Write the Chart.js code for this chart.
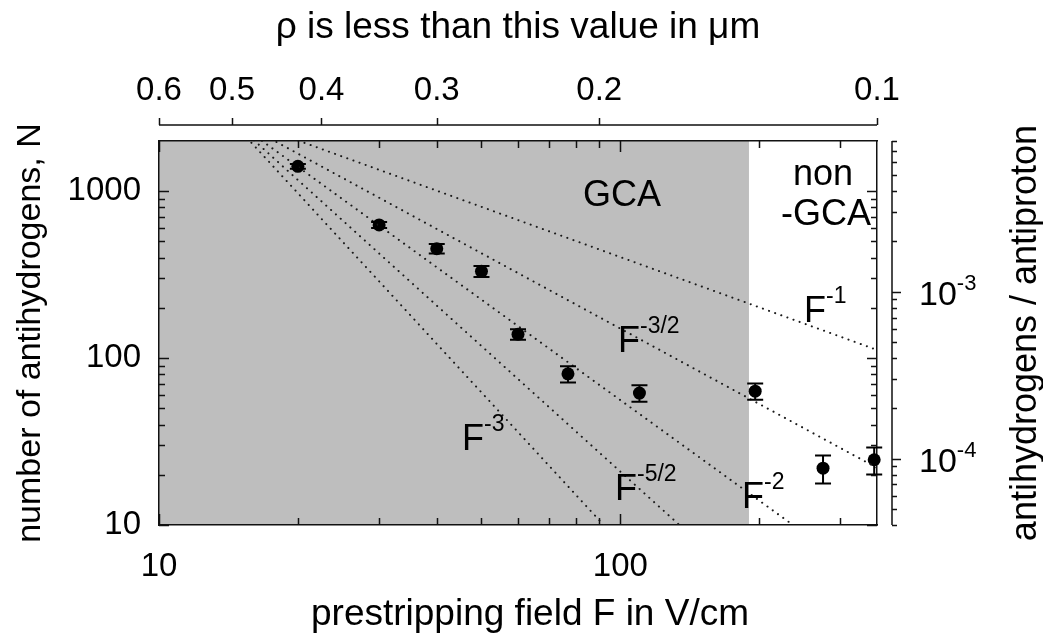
<!DOCTYPE html>
<html lang="en">
<head>
<meta charset="UTF-8">
<title>Antihydrogen yield vs prestripping field</title>
<style>
    body { margin: 0; background: #fff; }
    #wrap { width: 1043px; height: 644px; position: relative; }
</style>
</head>
<body>
<div id="wrap"><canvas id="chart"></canvas></div>

<script src="https://cdn.jsdelivr.net/npm/chart.js"></script>
<script>
// measured antihydrogen counts N against prestripping field F (V/cm)
const fieldValues = [20, 30, 40, 50, 60, 77, 110, 196, 275, 355];
const hbarCounts  = [1410, 628, 453, 331, 139, 80.5, 61.7, 63.4, 21.9, 24.6];
const countErrors = [45, 25, 30, 25, 10, 9, 7, 7, 4.2, 4.5];

// power-law guides N ~ F^-k, all drawn through one common point
const guideExponents = [1, 1.5, 2, 2.5, 3];
const guideLabels    = ['-1', '-3/2', '-2', '-5/2', '-3'];
const guideOrigin    = [13.9, 2900];
const guideEnd       = 360;

// axes
const fieldRange  = [10, 360];
const countRange  = [10, 2000];
const gcaLimit    = 190;      // GCA region lies below this field
const antiprotons = 2.5e5;    // N / antiprotons = antihydrogens per antiproton
const fieldTicks  = [10, 100];
const fieldMinor  = [20, 30, 40, 50, 60, 70, 80, 90, 200, 300];
const countTicks  = [10, 100, 1000];
const countMinor  = [20, 30, 40, 50, 60, 70, 80, 90, 200, 300, 400, 500, 600, 700, 800, 900];
const rhoTicks    = [0.6, 0.5, 0.4, 0.3, 0.2, 0.1];
const ratioMajor  = [1e-4, 1e-3];
const ratioMinor  = [4e-5, 5e-5, 6e-5, 7e-5, 8e-5, 9e-5,
                     2e-4, 3e-4, 4e-4, 5e-4, 6e-4, 7e-4, 8e-4, 9e-4,
                     2e-3, 3e-3, 4e-3, 5e-3, 6e-3, 7e-3, 8e-3];

const FONT = "'Liberation Sans', Arial, Helvetica, sans-serif";
const INK = '#111';

function drawText(ctx, str, x, y, size, align) {
    ctx.font = size + 'px ' + FONT;
    ctx.textAlign = align || 'left';
    ctx.textBaseline = 'alphabetic';
    ctx.fillText(str, x, y);
}

// "F" with a raised exponent, x/y = left edge and baseline of the F
function drawPower(ctx, base, exp, x, y) {
    drawText(ctx, base, x, y, 36);
    const w = ctx.measureText(base).width;
    drawText(ctx, exp, x + w, y - 19, 23);
}

const decorations = {
    id: 'decorations',
    beforeDraw(chart) {
        // grey GCA band
        const { ctx, chartArea: a, scales } = chart;
        const xr = scales.x.getPixelForValue(gcaLimit);
        ctx.save();
        ctx.fillStyle = '#bebebe';
        ctx.fillRect(a.left, a.top, xr - a.left, a.bottom - a.top);
        ctx.restore();
    },
    afterDatasetsDraw(chart) {
        // error bars
        const { ctx, scales: { x, y } } = chart;
        ctx.save();
        ctx.strokeStyle = '#000';
        ctx.lineWidth = 2;
        ctx.beginPath();
        fieldValues.forEach((f, i) => {
            const px = x.getPixelForValue(f);
            const hi = y.getPixelForValue(hbarCounts[i] + countErrors[i]);
            const lo = y.getPixelForValue(hbarCounts[i] - countErrors[i]);
            ctx.moveTo(px, hi); ctx.lineTo(px, lo);
            ctx.moveTo(px - 8, hi); ctx.lineTo(px + 8, hi);
            ctx.moveTo(px - 8, lo); ctx.lineTo(px + 8, lo);
        });
        ctx.stroke();
        ctx.restore();
    },
    afterDraw(chart) {
        const { ctx, chartArea: a, scales: { x, y, x2, y2 } } = chart;
        ctx.save();
        ctx.strokeStyle = INK;
        ctx.lineWidth = 1.5;
        ctx.beginPath();

        // inward ticks on all four sides of the frame
        fieldMinor.concat(fieldTicks).forEach(v => {
            const px = Math.round(x.getPixelForValue(v)) + 0.5;
            const len = fieldTicks.includes(v) ? 11 : 7;
            ctx.moveTo(px, a.bottom); ctx.lineTo(px, a.bottom - len);
            ctx.moveTo(px, a.top); ctx.lineTo(px, a.top + len);
        });
        countMinor.concat(countTicks).forEach(v => {
            const py = Math.round(y.getPixelForValue(v)) + 0.5;
            const len = countTicks.includes(v) ? 10 : 6;
            ctx.moveTo(a.left, py); ctx.lineTo(a.left + len, py);
            ctx.moveTo(a.right, py); ctx.lineTo(a.right - len, py);
        });

        // detached rho axis above the frame
        const ty = 125;
        ctx.moveTo(a.left, ty); ctx.lineTo(a.right, ty);
        rhoTicks.forEach(v => {
            const px = Math.round(x2.getPixelForValue(v)) + 0.5;
            ctx.moveTo(px, ty); ctx.lineTo(px, ty - 7);
        });

        // detached ratio axis right of the frame
        const rx = 892;
        ctx.moveTo(rx, a.top); ctx.lineTo(rx, a.bottom);
        ratioMinor.concat(ratioMajor).forEach(v => {
            const py = Math.round(y2.getPixelForValue(v)) + 0.5;
            const len = ratioMajor.includes(v) ? 9 : 5;
            ctx.moveTo(rx, py); ctx.lineTo(rx + len, py);
        });
        ctx.stroke();

        ctx.fillStyle = '#000';
        ratioMajor.forEach(v => {
            const py = y2.getPixelForValue(v);
            drawText(ctx, '10', 919, py + 13, 34);
            const w = ctx.measureText('10').width;
            drawText(ctx, String(Math.round(Math.log10(v))), 919 + w, py - 2, 22);
        });

        // bottom axis title
        drawText(ctx, 'prestripping field F in V/cm', 530, 625, 37, 'center');

        // right-hand title, reading upwards
        ctx.save();
        ctx.translate(1026, (a.top + a.bottom) / 2);
        ctx.rotate(-Math.PI / 2);
        ctx.font = '36px ' + FONT;
        ctx.textAlign = 'center';
        ctx.textBaseline = 'middle';
        ctx.fillText('antihydrogens / antiproton', 0, 0);
        ctx.restore();

        // region names
        drawText(ctx, 'GCA', 622, 206, 36, 'center');
        drawText(ctx, 'non', 823, 185, 36, 'center');
        drawText(ctx, '-GCA', 826, 225, 36, 'center');

        // guide labels
        const labelSpots = [[804, 322], [618, 352], [742, 508], [615, 500], [462, 450]];
        guideLabels.forEach((t, i) => drawPower(ctx, 'F', t, labelSpots[i][0], labelSpots[i][1]));

        ctx.restore();
    }
};

const guideSets = guideExponents.map(k => ({
    data: [
        { x: guideOrigin[0], y: guideOrigin[1] },
        { x: guideEnd, y: guideOrigin[1] * Math.pow(guideOrigin[0] / guideEnd, k) }
    ],
    showLine: true,
    borderColor: '#1a1a1a',
    borderWidth: 2,
    borderDash: [0.1, 6.4],
    borderCapStyle: 'round',
    pointRadius: 0,
    clip: 0
}));

const pointSet = {
    data: fieldValues.map((f, i) => ({ x: f, y: hbarCounts[i] })),
    showLine: false,
    pointRadius: 6.5,
    pointBackgroundColor: '#000',
    pointBorderColor: '#000',
    pointBorderWidth: 0,
    clip: false
};

const tickFont = { family: FONT, size: 33 };
const titleFont = { family: FONT, size: 37, lineHeight: 1 };
const noGrid = { display: false, drawTicks: false };

new Chart(document.getElementById('chart'), {
    type: 'scatter',
    data: { datasets: guideSets.concat([pointSet]) },
    options: {
        responsive: true,
        maintainAspectRatio: false,
        animation: false,
        layout: { padding: 0 },
        plugins: { legend: { display: false }, tooltip: { enabled: false } },
        scales: {
            x: {
                type: 'logarithmic', position: 'bottom',
                min: fieldRange[0], max: fieldRange[1],
                grid: noGrid,
                border: { color: INK, width: 1.5 },
                afterBuildTicks: s => { s.ticks = fieldTicks.map(v => ({ value: v })); },
                afterFit: s => { s.height = 119; },
                ticks: { font: tickFont, color: '#000', padding: 22, autoSkip: false, maxRotation: 0, callback: v => String(v) }
            },
            x2: {
                type: 'logarithmic', position: 'top', reverse: true,
                min: 0.1, max: 0.6,
                grid: noGrid,
                border: { color: INK, width: 1.5 },
                afterBuildTicks: s => { s.ticks = rhoTicks.map(v => ({ value: v })); },
                afterFit: s => { s.height = 141; },
                ticks: { font: tickFont, color: '#000', padding: 30, autoSkip: false, maxRotation: 0, callback: v => v.toFixed(1) },
                title: { display: true, text: 'ρ is less than this value in μm', font: titleFont, color: '#000', padding: { top: 9 } }
            },
            y: {
                type: 'logarithmic', position: 'left',
                min: countRange[0], max: countRange[1],
                grid: noGrid,
                border: { color: INK, width: 1.5 },
                afterBuildTicks: s => { s.ticks = countTicks.map(v => ({ value: v })); },
                afterFit: s => { s.width = 159; },
                ticks: { font: tickFont, color: '#000', padding: 18, autoSkip: false, callback: v => String(v) },
                title: { display: true, text: 'number of antihydrogens, N', font: { family: FONT, size: 34, lineHeight: 1 }, color: '#000', padding: { top: 14 } }
            },
            y2: {
                type: 'logarithmic', position: 'right',
                min: countRange[0] / antiprotons, max: countRange[1] / antiprotons,
                grid: noGrid,
                border: { color: INK, width: 1.5 },
                afterFit: s => { s.width = 166; },
                ticks: { display: false }
            }
        }
    },
    plugins: [decorations]
});
</script>
</body>
</html>
